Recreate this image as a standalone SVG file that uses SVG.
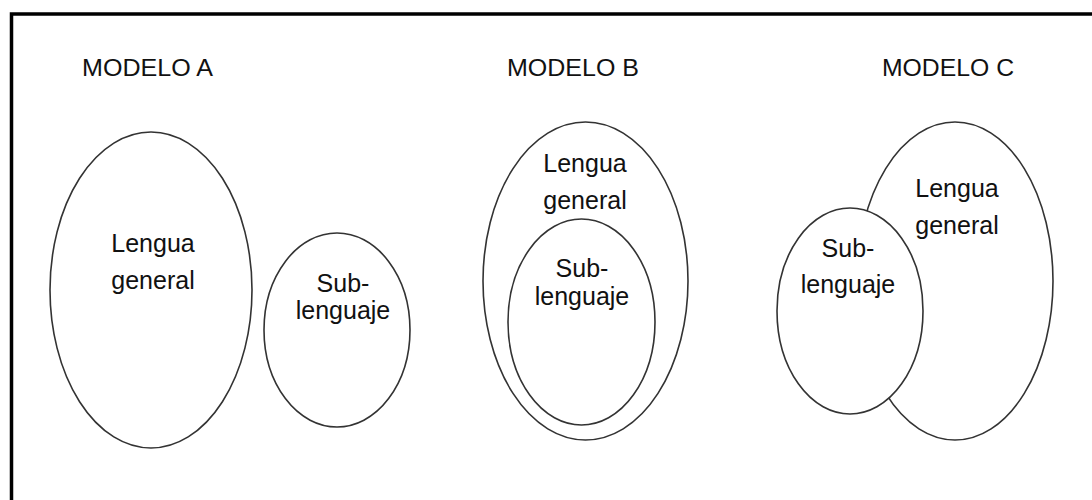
<svg xmlns="http://www.w3.org/2000/svg" width="1092" height="500" viewBox="0 0 1092 500">
<style>
.t{font-family:"Liberation Sans",Arial,sans-serif;font-size:25px;fill:#111;text-anchor:middle}
.h{font-family:"Liberation Sans",Arial,sans-serif;font-size:24px;fill:#111}
.e{fill:#fff;stroke:#333;stroke-width:1.6}
</style>
<rect x="0" y="0" width="1092" height="500" fill="#fff"/>
<path d="M11.5 520 V14 H1100" fill="none" stroke="#000" stroke-width="3.5"/>
<text class="h" x="82" y="76" textLength="131" lengthAdjust="spacingAndGlyphs">MODELO A</text>
<text class="h" x="507" y="76" textLength="132" lengthAdjust="spacingAndGlyphs">MODELO B</text>
<text class="h" x="882" y="76" textLength="132" lengthAdjust="spacingAndGlyphs">MODELO C</text>
<g id="modeloA-general">
<ellipse class="e" cx="151" cy="290" rx="101" ry="158"/>
<text class="t" x="153" y="252">Lengua</text>
<text class="t" x="153" y="289">general</text>
</g>
<g id="modeloA-sub">
<ellipse class="e" cx="337" cy="330" rx="73" ry="97"/>
<text class="t" x="343" y="292">Sub-</text>
<text class="t" x="343" y="319">lenguaje</text>
</g>
<g id="modeloB-general">
<ellipse class="e" cx="585.5" cy="281" rx="102.5" ry="159"/>
<text class="t" x="585" y="172">Lengua</text>
<text class="t" x="585" y="209">general</text>
</g>
<g id="modeloB-sub">
<ellipse class="e" cx="581.5" cy="322" rx="73.5" ry="103"/>
<text class="t" x="582" y="277">Sub-</text>
<text class="t" x="582" y="305">lenguaje</text>
</g>
<g id="modeloC-general">
<ellipse class="e" cx="955" cy="281" rx="98" ry="159"/>
<text class="t" x="957" y="197">Lengua</text>
<text class="t" x="957" y="234">general</text>
</g>
<g id="modeloC-sub">
<ellipse class="e" cx="850" cy="311" rx="73" ry="103"/>
<text class="t" x="848" y="257">Sub-</text>
<text class="t" x="848" y="293">lenguaje</text>
</g>
<g id="connectors"></g>
</svg>
